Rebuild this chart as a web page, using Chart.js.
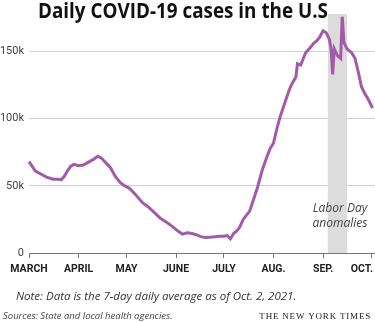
<!DOCTYPE html>
<html>
<head>
<meta charset="utf-8">
<script src="https://cdn.jsdelivr.net/npm/chart.js@4"></script>
<style>
  html, body { margin: 0; padding: 0; background: #fff; }
  #wrap { width: 375px; height: 322px; position: relative; }
</style>
</head>
<body>
<div id="wrap"><canvas id="chart"></canvas></div>
<script>
// days counted from March 1, 2021
const days = [0, 4, 8, 11, 15, 18, 20, 22, 24, 26, 28, 31, 34, 37, 40, 43, 45, 47, 49, 51,
  54, 57, 60, 63, 67, 71, 75, 79, 82, 86, 90, 93, 96, 99, 102, 105, 108, 111, 115, 119,
  122, 124, 126, 128, 130, 132, 134, 136, 138, 140, 143, 146, 149, 151, 153, 155, 157, 159,
  161, 163, 165, 167, 168, 170, 173, 176, 178, 180, 182, 184, 186, 188, 189, 190, 191, 193,
  195, 196, 197, 199, 202, 204, 206, 208, 210, 212, 215];
const cases = [68000, 61000, 58500, 56500, 55000, 55000, 54500, 57000, 61000, 64500, 66000,
  65000, 65500, 67500, 69500, 72000, 71000, 68500, 66000, 63500, 57000, 52500, 50000, 48000,
  43000, 37500, 34000, 29500, 26000, 23000, 19500, 16500, 14000, 15000, 14500, 13500, 12000,
  11500, 12000, 12500, 12500, 13000, 10500, 14500, 16500, 19500, 25000, 28000, 31000, 38000,
  49000, 62000, 72000, 78000, 82000, 92000, 101000, 108000, 115000, 122000, 127000, 131000,
  141000, 140000, 149000, 153000, 156000, 158000, 161000, 165500, 164000, 159000, 152000,
  133000, 152000, 147000, 145000, 176000, 157000, 152000, 149000, 145000, 135000, 124000,
  119000, 115000, 108000];
const monthDays = [0, 31, 61, 92, 122, 153, 184, 214];
const monthLabels = ['MARCH', 'APRIL', 'MAY', 'JUNE', 'JULY', 'AUG.', 'SEP.', 'OCT.'];
const yTicks = [0, 50000, 100000, 150000];
const yLabels = ['0', '50k', '100k', '150k'];
const laborDay = [187, 199];

const points = days.map((d, i) => ({ x: d, y: cases[i] }));

// gray band behind the line, plus title, month labels and footer texts
const extras = {
  id: 'extras',
  beforeDatasetsDraw(chart) {
    const { ctx, chartArea, scales } = chart;
    const x1 = scales.x.getPixelForValue(laborDay[0]);
    const x2 = scales.x.getPixelForValue(laborDay[1]);
    ctx.save();
    ctx.fillStyle = '#dcdcdc';
    ctx.fillRect(x1, chartArea.top, x2 - x1, chartArea.bottom - chartArea.top);
    ctx.fillStyle = '#444';
    ctx.font = 'italic 12px "Open Sans"';
    ctx.textAlign = 'center';
    ctx.textBaseline = 'alphabetic';
    ctx.fillText('Labor Day', 340, 212);
    ctx.fillText('anomalies', 340, 227);
    ctx.restore();
  },
  afterDraw(chart) {
    const { ctx, chartArea, scales } = chart;
    ctx.save();
    ctx.fillStyle = '#111';
    ctx.font = 'bold 21px "Open Sans"';
    ctx.textBaseline = 'alphabetic';
    const title = 'Daily COVID-19 cases in the U.S';
    const w = ctx.measureText(title).width;
    const target = 290;
    ctx.translate(38, 18);
    ctx.scale(target / w, 1);
    ctx.fillText(title, 0, 0);
    ctx.restore();

    // month labels, centered on ticks but kept inside the canvas
    ctx.save();
    ctx.fillStyle = '#222';
    ctx.font = 'bold 10.5px Roboto';
    ctx.textBaseline = 'middle';
    ctx.textAlign = 'left';
    monthDays.forEach((d, i) => {
      const lw = ctx.measureText(monthLabels[i]).width;
      let lx = scales.x.getPixelForValue(d) - lw / 2;
      lx = Math.max(2, Math.min(lx, chart.width - 2 - lw));
      ctx.fillText(monthLabels[i], lx, chartArea.bottom + 16);
    });
    ctx.restore();

    ctx.save();
    ctx.fillStyle = '#333';
    ctx.font = 'italic 11.5px "Open Sans"';
    ctx.textBaseline = 'alphabetic';
    ctx.fillText('Note: Data is the 7-day daily average as of Oct. 2, 2021.', 16, 300);
    ctx.fillStyle = '#444';
    ctx.font = 'italic 9.5px "Open Sans"';
    ctx.fillText('Sources: State and local health agencies.', 3, 319);
    ctx.fillStyle = '#222';
    ctx.font = '9px "Liberation Serif"';
    ctx.textAlign = 'right';
    ctx.letterSpacing = '0.8px';
    ctx.fillText('THE NEW YORK TIMES', 371, 319);
    ctx.restore();
  }
};

new Chart(document.getElementById('chart'), {
  type: 'line',
  data: {
    datasets: [{
      data: points,
      borderColor: '#a35aa8',
      borderWidth: 3,
      pointRadius: 0,
      tension: 0,
      clip: false
    }]
  },
  options: {
    responsive: true,
    maintainAspectRatio: false,
    animation: false,
    layout: { padding: { top: 14, bottom: 47, left: 0, right: 0 } },
    plugins: {
      legend: { display: false },
      tooltip: { enabled: false }
    },
    scales: {
      x: {
        type: 'linear',
        min: 0,
        max: 216.5,
        afterBuildTicks: (scale) => { scale.ticks = monthDays.map(v => ({ value: v })); },
        afterFit: (scale) => {
          scale.height = 22;
          scale.paddingLeft = 0;
          scale.paddingRight = 0;
        },
        ticks: { display: false },
        grid: {
          drawOnChartArea: false,
          drawTicks: true,
          tickLength: 5,
          color: '#777'
        },
        border: { display: true, color: '#777' }
      },
      y: {
        min: 0,
        max: 178000,
        afterBuildTicks: (scale) => { scale.ticks = yTicks.map(v => ({ value: v })); },
        afterFit: (scale) => { scale.width = 29; },
        ticks: {
          padding: 5,
          color: '#444',
          font: { family: 'Roboto', size: 11 },
          callback: (v) => yLabels[yTicks.indexOf(v)]
        },
        grid: {
          drawTicks: false,
          color: (c) => (c.tick && c.tick.value === 0) ? 'rgba(0,0,0,0)' : '#cfcfcf'
        },
        border: { display: false }
      }
    }
  },
  plugins: [extras]
});
</script>
</body>
</html>
